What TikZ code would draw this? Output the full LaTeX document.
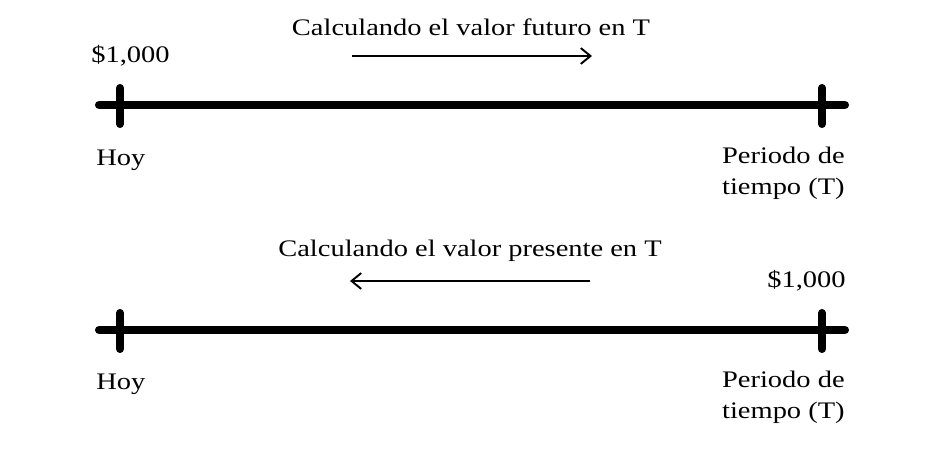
\documentclass[tikz,border=0pt]{standalone}
\usepackage{fontspec}
\setmainfont[FakeStretch=1.2]{Liberation Serif}
\usetikzlibrary{positioning, arrows.meta, calc}

\begin{document}
\begin{tikzpicture}[
  x=0.02cm, y=-0.02cm,
  every node/.style={font=\fontsize{13.5}{17.5}\selectfont, inner sep=0pt},
  axis/.style={line width=4.6pt, line cap=round},
  tickmark/.style={line width=4.6pt, line cap=round},
  dirarr/.style={-{Straight Barb[length=5.5pt, width=9pt]}, line width=1.1pt}
]
\useasboundingbox (0,0) rectangle (944,466);

% ---- Future value timeline ----
\coordinate (fvstart) at (99,105);
\coordinate (fvend) at (845,105);
\coordinate (fvhoy) at (120,105);
\coordinate (fvT) at (822,105);

\draw[axis] (fvstart) -- (fvend);
\draw[tickmark] ($(fvhoy)+(0,-17)$) -- ($(fvhoy)+(0,19)$);
\draw[tickmark] ($(fvT)+(0,-17)$) -- ($(fvT)+(0,19)$);

\node (fvtitle) at (471,27) {Calculando el valor futuro en T};
\node[anchor=west] (fvamount) at (91,56) {\$1,000};
\node[anchor=west] (fvtoday) at (96,160) {Hoy};
\node[anchor=north east, align=right] (fvperiod) at (845,147) {Periodo de\\tiempo (T)};

\coordinate (fvarrA) at (352,56);
\coordinate (fvarrB) at (592,56);
\draw[dirarr] (fvarrA) -- (fvarrB);

% ---- Present value timeline ----
\coordinate (pvstart) at (99,330);
\coordinate (pvend) at (845,330);
\coordinate (pvhoy) at (120,330);
\coordinate (pvT) at (822,330);

\draw[axis] (pvstart) -- (pvend);
\draw[tickmark] ($(pvhoy)+(0,-17)$) -- ($(pvhoy)+(0,19)$);
\draw[tickmark] ($(pvT)+(0,-17)$) -- ($(pvT)+(0,19)$);

\node (pvtitle) at (470,251) {Calculando el valor presente en T};
\node[anchor=east] (pvamount) at (846,281) {\$1,000};
\node[anchor=west] (pvtoday) at (96,384) {Hoy};
\node[anchor=north east, align=right] (pvperiod) at (845,371) {Periodo de\\tiempo (T)};

\coordinate (pvarrA) at (590,281);
\coordinate (pvarrB) at (350,281);
\draw[dirarr] (pvarrA) -- (pvarrB);

\end{tikzpicture}
\end{document}
